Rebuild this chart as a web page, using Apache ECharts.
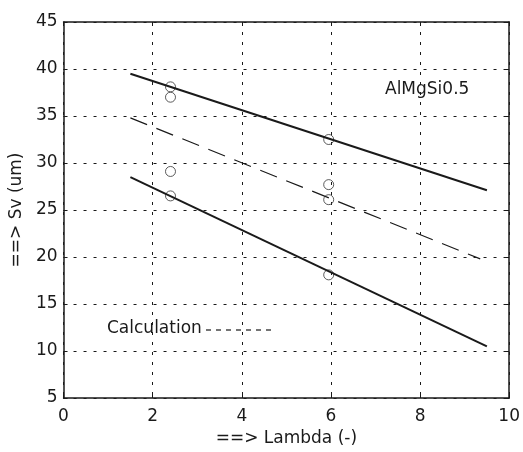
<!DOCTYPE html>
<html><head><meta charset="utf-8">
<script src="https://cdn.jsdelivr.net/npm/echarts@6/dist/echarts.min.js"></script>
<style>html,body{margin:0;padding:0;background:#fff}#c{width:523px;height:452px}</style>
</head><body><div id="c"></div>
<script>
const xTicks = [0, 2, 4, 6, 8, 10];
const yTicks = [5, 10, 15, 20, 25, 30, 35, 40, 45];
const upperLine = [[1.5, 39.5], [9.5, 27.1]];
const lowerLine = [[1.5, 28.5], [9.5, 10.5]];
const calcLine = [[1.5, 34.8], [9.35, 19.8]];
const measured = [[2.4, 38.1], [2.4, 37.0], [2.4, 29.1], [2.4, 26.5], [5.95, 32.5], [5.95, 27.7], [5.95, 26.1], [5.95, 18.1]];
const alloyLabel = 'AlMgSi0.5';
const legendLabel = 'Calculation';
const xTitle = '==> Lambda (-)';
const yTitle = '==> Sv (um)';

const FONT = '"DejaVu Sans", sans-serif';
const ink = '#1a1a1a';
const chart = echarts.init(document.getElementById('c'));
const gridDash = { type: [3, 7], color: ink, width: 1 };
const baseX = {
  type: 'value', min: 0, max: 10, interval: 2,
  axisLine: { show: true, onZero: false, lineStyle: { color: ink, width: 1.5 } },
  axisTick: { show: true, inside: true, length: 4, lineStyle: { color: ink } },
};
const baseY = {
  type: 'value', min: 5, max: 45, interval: 5,
  axisLine: { show: true, onZero: false, lineStyle: { color: ink, width: 1.5 } },
  axisTick: { show: true, inside: true, length: 4, lineStyle: { color: ink } },
};
chart.setOption({
  animation: false,
  grid: { left: 61, right: 13, top: 22, bottom: 54, containLabel: false },
  xAxis: [
    Object.assign({}, baseX, {
      position: 'bottom',
      name: xTitle, nameLocation: 'middle', nameGap: 28,
      nameTextStyle: { fontFamily: FONT, fontSize: 17, color: ink },
      axisLabel: { fontFamily: FONT, fontSize: 17, color: ink, margin: 10 },
      splitLine: { show: true, lineStyle: gridDash },
    }),
    Object.assign({}, baseX, { position: 'top', axisLabel: { show: false }, splitLine: { show: false } })
  ],
  yAxis: [
    Object.assign({}, baseY, {
      position: 'left',
      name: yTitle, nameLocation: 'middle', nameGap: 31,
      nameTextStyle: { fontFamily: FONT, fontSize: 17, color: ink },
      axisLabel: { fontFamily: FONT, fontSize: 17, color: ink, margin: 6 },
      splitLine: { show: true, lineStyle: gridDash },
    }),
    Object.assign({}, baseY, { position: 'right', axisLabel: { show: false }, splitLine: { show: false } })
  ],
  series: [
    { type: 'line', data: upperLine, symbol: 'none', lineStyle: { color: ink, width: 2 } },
    { type: 'line', data: lowerLine, symbol: 'none', lineStyle: { color: ink, width: 2 } },
    { type: 'line', data: calcLine, symbol: 'none', lineStyle: { color: ink, width: 1.2, type: [18, 10] } },
    { type: 'scatter', data: measured, symbol: 'circle', symbolSize: 10,
      itemStyle: { color: 'rgba(255,255,255,0)', borderColor: '#333', borderWidth: 1 } }
  ],
  graphic: [
    { type: 'text', left: 385, top: 81, style: { text: alloyLabel, font: '17px ' + FONT, fill: ink } },
    { type: 'text', left: 107, top: 320, style: { text: legendLabel, font: '17px ' + FONT, fill: ink } },
    { type: 'line', shape: { x1: 206, y1: 330, x2: 273, y2: 330 }, style: { stroke: ink, lineWidth: 1.2, lineDash: [5, 5] } }
  ]
});
</script></body></html>
